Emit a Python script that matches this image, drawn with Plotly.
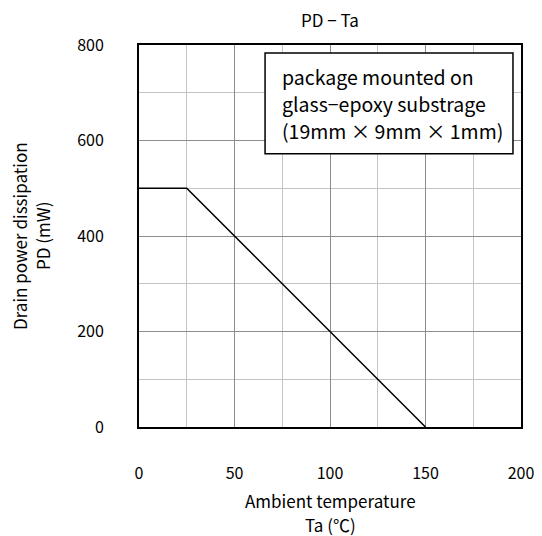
import plotly.graph_objects as go

# data
ta = [0, 25, 150]
pd_mw = [500, 500, 0]
note_lines = ["package mounted on", "glass−epoxy substrage", "(19mm × 9mm × 1mm)"]
title_text = "PD − Ta"
x_title = ["Ambient temperature", "Ta (℃)"]
y_title = ["Drain power dissipation", "PD (mW)"]

FONT = "Noto Sans CJK JP"

fig = go.Figure()
fig.add_trace(go.Scatter(x=ta, y=pd_mw, mode="lines",
                         line=dict(color="black", width=1.5),
                         showlegend=False, hoverinfo="skip"))

# note box
fig.add_shape(type="rect", xref="x", yref="y", x0=66, x1=195.8, y0=572, y1=783,
              line=dict(color="black", width=1.5), fillcolor="white", layer="above")
for i, t in enumerate(note_lines):
    fig.add_annotation(x=74, y=[734, 677, 620][i], xref="x", yref="y", text=t,
                       showarrow=False, xanchor="left", yanchor="middle",
                       font=dict(family=FONT, size=19.5, color="black"))

# axis titles
for i, t in enumerate(x_title):
    fig.add_annotation(x=0.5, y=0, xref="paper", yref="paper", text=t, showarrow=False,
                       xanchor="center", yanchor="middle", yshift=[-73, -97][i],
                       font=dict(family=FONT, size=17, color="black"))
for i, t in enumerate(y_title):
    fig.add_annotation(x=0, y=0.5, xref="paper", yref="paper", text=t, showarrow=False,
                       xanchor="center", yanchor="middle", textangle=-90,
                       xshift=[-120, -97][i],
                       font=dict(family=FONT, size=17, color="black"))

fig.update_layout(
    width=542, height=536,
    margin=dict(l=139, r=21, t=45, b=109),
    paper_bgcolor="white", plot_bgcolor="white",
    font=dict(family=FONT, size=16, color="black"),
    title=dict(text=title_text, x=0.5, xref="paper", y=1 - 21 / 536, yref="container",
               xanchor="center", yanchor="middle", font=dict(size=17)),
)
fig.update_xaxes(range=[0, 200], tickmode="linear", tick0=0, dtick=50,
                 showline=True, mirror=True, linecolor="black", linewidth=2,
                 showgrid=True, gridcolor="#8c8c8c", gridwidth=1,
                 minor=dict(tickmode="linear", tick0=0, dtick=25, showgrid=True,
                            gridcolor="#c4c4c4", gridwidth=1),
                 ticks="", ticklabelstandoff=31, tickfont=dict(size=16),
                 zeroline=False, fixedrange=True, automargin=False)
fig.update_yaxes(range=[0, 800], tickmode="linear", tick0=0, dtick=200,
                 showline=True, mirror=True, linecolor="black", linewidth=2,
                 showgrid=True, gridcolor="#8c8c8c", gridwidth=1,
                 minor=dict(tickmode="linear", tick0=0, dtick=100, showgrid=True,
                            gridcolor="#c4c4c4", gridwidth=1),
                 ticks="", ticklabelstandoff=30, tickfont=dict(size=16),
                 zeroline=False, fixedrange=True, automargin=False)

fig.write_html("out.html")
